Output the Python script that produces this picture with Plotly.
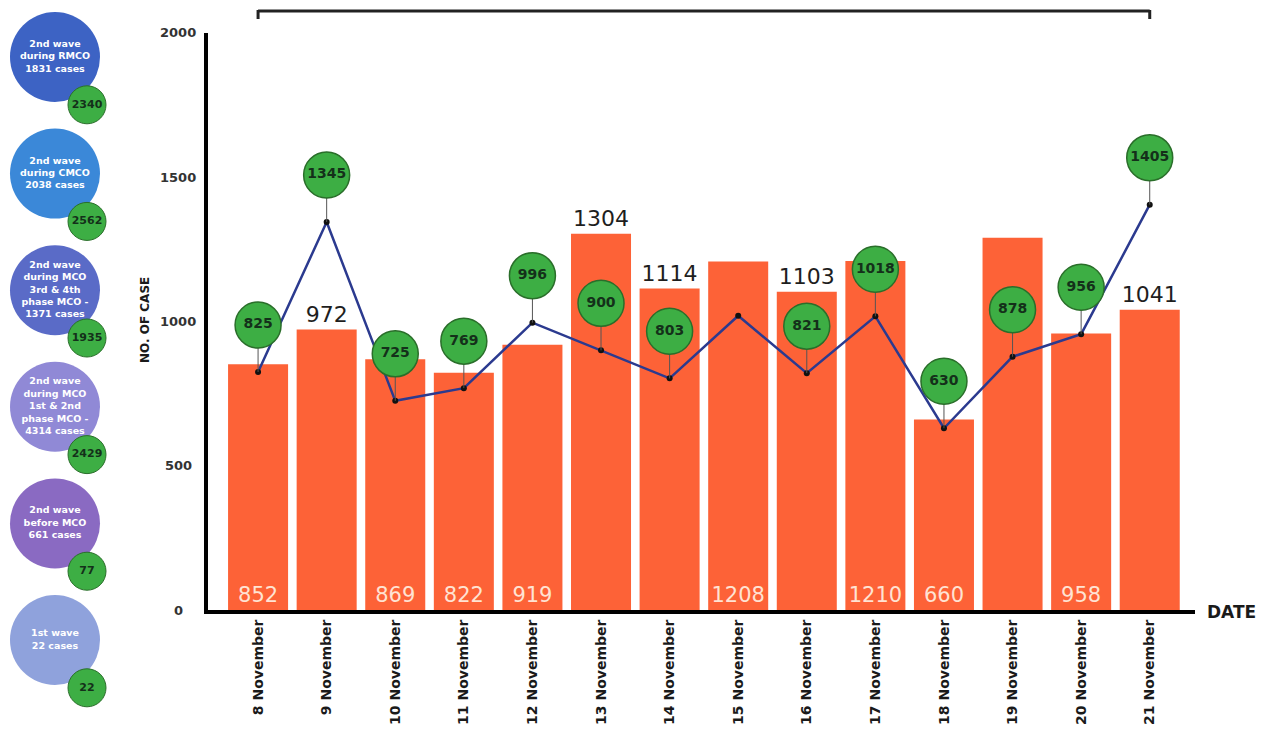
import plotly.graph_objects as go

# ---------------- data ----------------
dates = ["8 November", "9 November", "10 November", "11 November", "12 November",
         "13 November", "14 November", "15 November", "16 November", "17 November",
         "18 November", "19 November", "20 November", "21 November"]
bar_values = [852, 972, 869, 822, 919, 1304, 1114, 1208, 1103, 1210, 660, 1290, 958, 1041]
inside_labels = ["852", "", "869", "822", "919", "", "", "1208", "", "1210", "660", "", "958", ""]
top_labels = ["", "972", "", "", "", "1304", "1114", "", "1103", "", "", "", "", "1041"]
line_values = [825, 1345, 725, 769, 996, 900, 803, 1020, 821, 1018, 630, 878, 956, 1405]
circle_labels = ["825", "1345", "725", "769", "996", "900", "803", None, "821", "1018",
                 "630", "878", "956", "1405"]
y_ticks = [0, 500, 1000, 1500, 2000]

wave_labels = ["2nd wave<br>during RMCO<br>1831 cases",
               "2nd wave<br>during CMCO<br>2038 cases",
               "2nd wave<br>during MCO<br>3rd & 4th<br>phase MCO -<br>1371 cases",
               "2nd wave<br>during MCO<br>1st & 2nd<br>phase MCO -<br>4314 cases",
               "2nd wave<br>before MCO<br>661 cases",
               "1st wave<br>22 cases"]
wave_badges = ["2340", "2562", "1935", "2429", "77", "22"]
wave_colors = ["#3d63c4", "#3b88d8", "#5a6bc7", "#9089d6", "#8a6ac2", "#8fa2dc"]

# ---------------- layout constants ----------------
W, H = 1265, 737
OX, OY = 8, 8              # page body margin compensation
PX_L, PX_R, PX_T, PX_B = 208, 1195, 33, 610
Y_MAX = 2000
CIRCLE_OFFSET = 47 * Y_MAX / (PX_B - PX_T)  # 47 px above the point
ORANGE = "#fd6237"
GREEN = "#3dae44"
NAVY = "#2b3a8f"
FONT = "DejaVu Sans"


def fx(px):
    return (px - OX) / W


def fy(py):
    return 1 - (py - OY) / H


fig = go.Figure()

# bars
bar_text = [a if a else b for a, b in zip(inside_labels, top_labels)]
bar_pos = ["inside" if a else ("outside" if b else "none") for a, b in zip(inside_labels, top_labels)]
fig.add_trace(go.Bar(
    x=dates, y=bar_values, marker=dict(color=ORANGE, line=dict(width=0)),
    text=bar_text, textposition=bar_pos, insidetextanchor="start",
    constraintext="none", cliponaxis=False,
    insidetextfont=dict(family=FONT, size=21, color="#ffe3d3"),
    outsidetextfont=dict(family=FONT, size=22, color="#1e1e1e"),
    textangle=0, hoverinfo="skip", xaxis="x", yaxis="y"))

# line
fig.add_trace(go.Scatter(
    x=dates, y=line_values, mode="lines+markers",
    line=dict(color=NAVY, width=2.5),
    marker=dict(color="#111111", size=6),
    cliponaxis=False, xaxis="x", yaxis="y"))

# green label circles with stems
cx, cy, ct = [], [], []
for d, v, lab in zip(dates, line_values, circle_labels):
    if lab is not None:
        cx.append(d)
        cy.append(v + CIRCLE_OFFSET)
        ct.append(lab)
fig.add_trace(go.Scatter(
    x=cx, y=cy, mode="markers+text", text=ct, textposition="middle center",
    textfont=dict(family=FONT, size=14, color="#14301a", weight="bold"),
    marker=dict(size=46, color=GREEN, line=dict(color="#2a6e2a", width=1.5)),
    error_y=dict(type="data", symmetric=False, array=[0] * len(cy),
                 arrayminus=[CIRCLE_OFFSET] * len(cy), color="#555555",
                 thickness=1, width=0),
    cliponaxis=False, xaxis="x", yaxis="y"))

# left bubbles
idx = list(range(len(wave_labels)))
fig.add_trace(go.Scatter(
    x=[0] * len(idx), y=idx, mode="markers+text", text=wave_labels,
    textposition="middle center",
    textfont=dict(family=FONT, size=9.5, color="white", weight="bold"),
    marker=dict(size=90, color=wave_colors, line=dict(width=0)),
    cliponaxis=False, xaxis="x2", yaxis="y2"))
fig.add_trace(go.Scatter(
    x=[1] * len(idx), y=[i + 0.41 for i in idx], mode="markers+text", text=wave_badges,
    textposition="middle center",
    textfont=dict(family=FONT, size=11, color="#14301a", weight="bold"),
    marker=dict(size=38, color=GREEN, line=dict(color="#2a6e2a", width=1)),
    cliponaxis=False, xaxis="x2", yaxis="y2"))

# bubble axis ranges (units: bubble index)
step_px = 116.6
first_px = 57 - OY
cx_px = 55 - OX
fig.update_layout(
    xaxis2=dict(domain=[0, 126.5 / W], range=[-cx_px / 32, (126.5 - cx_px) / 32], visible=False,
                anchor="y2", fixedrange=True, automargin=False),
    yaxis2=dict(domain=[0, 1], range=[(H - first_px) / step_px, -first_px / step_px],
                visible=False, anchor="x2", fixedrange=True, automargin=False),
)

# centred y tick labels
tick_annotations = [
    dict(text=str(t), x=fx(178), y=t, xref="paper", yref="y", xanchor="center",
         yanchor="middle", showarrow=False,
         font=dict(family=FONT, size=13, color="#333333", weight="bold"))
    for t in y_ticks
]

fig.update_layout(
    width=W, height=H,
    margin=dict(l=0, r=0, t=0, b=0, pad=0, autoexpand=False),
    paper_bgcolor="white", plot_bgcolor="white",
    showlegend=False, bargap=0.125,
    xaxis=dict(domain=[fx(PX_L), fx(PX_R)], type="category",
               range=[-0.73, len(dates) - 1 + 0.66],
               showline=True, linecolor="black", linewidth=4,
               showgrid=False, ticks="", tickangle=-90, automargin=False,
               tickfont=dict(family=FONT, size=14, color="#1a1a1a", weight="bold"),
               anchor="y"),
    yaxis=dict(domain=[fy(PX_B), fy(PX_T)], range=[0, Y_MAX],
               tickvals=y_ticks, showticklabels=False,
               showline=True, linecolor="black", linewidth=4,
               showgrid=False, zeroline=False, ticks="",
               automargin=False, anchor="x"),
    annotations=tick_annotations + [
        dict(text="NO. OF CASE", x=fx(145), y=fy(320), xref="paper", yref="paper",
             xanchor="center", yanchor="middle",
             textangle=-90, showarrow=False,
             font=dict(family=FONT, size=12, color="#1a1a1a", weight="bold")),
        dict(text="DATE", x=fx(1231), y=fy(612), xref="paper", yref="paper",
             xanchor="center", yanchor="middle",
             showarrow=False, font=dict(family=FONT, size=17, color="#1a1a1a", weight="bold")),
    ],
    shapes=[
        dict(type="line", xref="x", yref="paper", x0=dates[0], x1=dates[-1],
             y0=fy(11), y1=fy(11), line=dict(color="#222222", width=3)),
        dict(type="line", xref="x", yref="paper", x0=dates[0], x1=dates[0],
             y0=fy(10), y1=fy(19), line=dict(color="#222222", width=3)),
        dict(type="line", xref="x", yref="paper", x0=dates[-1], x1=dates[-1],
             y0=fy(10), y1=fy(19), line=dict(color="#222222", width=3)),
    ],
)

fig.write_html("out.html")
